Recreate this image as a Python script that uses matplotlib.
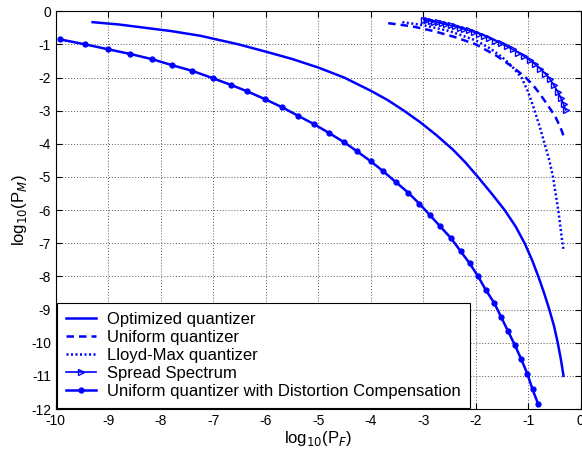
import matplotlib
matplotlib.use("Agg")
import matplotlib.pyplot as plt

# log10(PF), log10(PM) pairs
opt_x = [-9.3, -8.8, -8.3, -7.8, -7.25, -6.52, -6.0, -5.5, -5.0, -4.51, -4.0, -3.68,
         -3.37, -3.05, -2.75, -2.44, -2.2, -1.96, -1.70, -1.45, -1.24, -1.07, -0.93,
         -0.81, -0.7, -0.6, -0.51, -0.44, -0.38, -0.33]
opt_y = [-0.33, -0.4, -0.5, -0.6, -0.74, -1.0, -1.22, -1.44, -1.7, -2.0, -2.4, -2.68,
         -3.0, -3.36, -3.74, -4.17, -4.56, -5.0, -5.5, -6.0, -6.5, -7.0, -7.5,
         -8.0, -8.5, -9.0, -9.5, -10.0, -10.5, -11.0]

uni_x = [-3.67, -3.2, -2.8, -2.4, -2.0, -1.6, -1.3, -1.05, -0.9, -0.8, -0.68, -0.56,
         -0.48, -0.42, -0.36, -0.32]
uni_y = [-0.36, -0.46, -0.6, -0.78, -1.0, -1.35, -1.68, -2.0, -2.25, -2.45, -2.72, -3.0,
         -3.2, -3.4, -3.62, -3.81]

lm_x = [-3.4, -3.0, -2.5, -2.0, -1.7, -1.45, -1.28, -1.13, -1.0, -0.88, -0.78, -0.69,
        -0.6, -0.53, -0.48, -0.43, -0.39, -0.35, -0.33]
lm_y = [-0.33, -0.42, -0.6, -0.88, -1.15, -1.45, -1.72, -2.0, -2.45, -3.0, -3.5, -4.0,
        -4.5, -5.0, -5.5, -6.0, -6.5, -7.0, -7.18]

ss_x = [-2.99, -2.93, -2.86, -2.79, -2.72, -2.64, -2.56, -2.48, -2.40, -2.31, -2.22,
        -2.13, -2.04, -1.94, -1.84, -1.74, -1.63, -1.52, -1.41, -1.30, -1.19, -1.08,
        -0.97, -0.87, -0.77, -0.68, -0.59, -0.51, -0.44, -0.38, -0.33, -0.29]
ss_y = [-0.25, -0.27, -0.29, -0.31, -0.34, -0.37, -0.40, -0.43, -0.46, -0.50, -0.54,
        -0.58, -0.63, -0.68, -0.74, -0.81, -0.89, -0.97, -1.06, -1.15, -1.25, -1.36,
        -1.48, -1.60, -1.74, -1.88, -2.05, -2.24, -2.43, -2.62, -2.80, -2.98]

dc_x = [-9.92, -9.44, -9.0, -8.58, -8.16, -7.78, -7.4, -7.01, -6.67, -6.35, -6.02,
        -5.7, -5.39, -5.09, -4.8, -4.51, -4.26, -4.0, -3.77, -3.52, -3.29, -3.08,
        -2.87, -2.68, -2.47, -2.29, -2.12, -1.96, -1.81, -1.65, -1.52, -1.39, -1.26,
        -1.14, -1.02, -0.92, -0.81]
dc_y = [-0.85, -1.0, -1.15, -1.29, -1.45, -1.63, -1.8, -2.02, -2.22, -2.42, -2.65,
        -2.89, -3.15, -3.4, -3.67, -3.95, -4.23, -4.53, -4.82, -5.16, -5.47, -5.8,
        -6.16, -6.49, -6.85, -7.24, -7.6, -7.99, -8.41, -8.8, -9.22, -9.64, -10.06,
        -10.48, -10.93, -11.41, -11.86]

labels = ['Optimized quantizer', 'Uniform quantizer', 'Lloyd-Max quantizer',
          'Spread Spectrum', 'Uniform quantizer with Distortion Compensation']

plt.rcParams['font.family'] = ['Liberation Sans', 'DejaVu Sans']
plt.rcParams['axes.unicode_minus'] = False

fig = plt.figure(figsize=(5.82, 4.49), dpi=100)
ax = fig.add_axes([0.096, 0.089, 0.902, 0.886])

blue = '#0000ff'
ax.plot(opt_x, opt_y, '-', color=blue, lw=1.8, label=labels[0])
ax.plot(uni_x, uni_y, '--', color=blue, lw=1.8, dashes=(3, 2), label=labels[1])
ax.plot(lm_x, lm_y, ':', color=blue, lw=1.8, dashes=(0.8, 1.0), label=labels[2])
ax.plot(ss_x, ss_y, '-', color=blue, lw=1.2, marker='>', ms=5,
        mfc='none', mec=blue, mew=1.0, label=labels[3])
ax.plot(dc_x, dc_y, '-', color=blue, lw=1.8, marker='o', ms=3.5,
        mfc=blue, mec=blue, label=labels[4])

ax.set_xlim(-10, 0)
ax.set_ylim(-12, 0)
ax.set_xticks(range(-10, 1))
ax.set_yticks(range(-12, 1))
ax.grid(True, linestyle=(0, (1, 2)), color='#555555', linewidth=0.7)
ax.tick_params(direction='in', labelsize=10, length=4, top=True, right=True)

ax.set_xlabel('log$_{10}$(P$_F$)', fontsize=12, labelpad=1)
ax.set_ylabel('log$_{10}$(P$_M$)', fontsize=12, labelpad=1)

leg = ax.legend(loc='lower left', fontsize=12, handlelength=1.8,
                borderaxespad=0.05, labelspacing=0.18, fancybox=False,
                framealpha=1, edgecolor='black', borderpad=0.55,
                handletextpad=0.65)
leg.get_frame().set_linewidth(0.8)

fig.savefig('out.png', dpi=100)
